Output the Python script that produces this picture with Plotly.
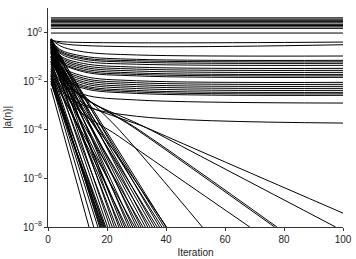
import plotly.graph_objects as go

# ---------------- data (log10 of |a(n)|) ----------------
# flat lines, constant from iteration 1 to 100
flat_log10 = [0.596, 0.542, 0.493, 0.440, 0.390, 0.329, 0.280, 0.226, 0.164, -0.029]

# near-flat lines just below 10^0
nearflat_iters = [1, 5, 100]
nearflat_log10 = [
    [-0.33, -0.39, -0.40],
    [-0.30, -0.47, -0.51],
]

# lines that fall and level off (plateau)
plateau_iters = [1, 4, 12, 30, 100]
plateau_log10 = [
    [-0.25, -0.55, -0.80, -0.93, -0.974],
    [-0.30, -0.70, -0.98, -1.11, -1.151],
    [-0.28, -0.75, -1.05, -1.17, -1.212],
    [-0.35, -0.80, -1.10, -1.23, -1.274],
    [-0.32, -0.85, -1.18, -1.31, -1.356],
    [-0.40, -0.95, -1.28, -1.43, -1.480],
    [-0.45, -1.00, -1.36, -1.51, -1.562],
    [-0.38, -1.05, -1.43, -1.59, -1.644],
    [-0.50, -1.12, -1.50, -1.67, -1.726],
    [-0.55, -1.18, -1.57, -1.73, -1.788],
    [-0.42, -1.20, -1.62, -1.79, -1.850],
    [-0.60, -1.35, -1.80, -1.99, -2.055],
    [-0.48, -1.40, -1.88, -2.07, -2.137],
    [-0.65, -1.48, -1.95, -2.15, -2.219],
    [-0.70, -1.55, -2.03, -2.23, -2.302],
    [-0.58, -1.60, -2.10, -2.31, -2.384],
    [-0.75, -1.68, -2.18, -2.39, -2.466],
    [-0.80, -1.75, -2.24, -2.45, -2.528],
    [-0.85, -1.82, -2.30, -2.51, -2.589],
    [-1.00, -2.00, -2.55, -2.78, -2.906],
    [-1.20, -2.30, -3.00, -3.45, -3.728],
]

# slowly converging lines: start (it. 1), knee, a reading near it. 30, last point
slow_start = [-0.50, -0.40, -0.30, -0.35, -0.60, -0.30, -0.50]
slow_knee_iter = [8, 8, 6, 6, 8, 5, 5]
slow_knee = [-2.55, -2.30, -2.00, -2.05, -2.90, -1.60, -2.00]
slow_mid_iter = [35.5, 35.1, 30.5, 31.1, 24.3, 24.3, 24.3]
slow_mid = [-4.03, -4.03, -4.03, -4.03, -4.30, -4.03, -5.19]
slow_end_iter = [100, 97.5, 76.8, 77.6, 68.4, 52.3, 40.2]
slow_end = [-7.43, -8, -8, -8, -8, -8, -8]

# fast converging lines: start at iteration 1, reach 10^-8 at end iteration
fast_start = [-2.3, -2.0, -1.9, -1.6, -1.8, -1.7, -1.9, -2.0, -1.5, -2.1, -1.75,
              -1.2, -0.8, -1.4, -0.5, -1.0, -0.3, -1.3, -0.6, -0.9, -1.6, -0.4,
              -1.1, -0.7, -1.8, -0.35, -1.0, -0.55, -1.5, -0.8, -0.3, -1.2, -0.65,
              -0.45, -1.0, -0.3, -0.75, -0.5, -0.4]
fast_end_iter = [13.9, 15.5, 16.9, 17.5, 17.8, 18.1, 18.4, 18.7, 19.0, 19.3, 19.6,
                 20.2, 21.0, 21.8, 22.5, 23.2, 24.0, 24.6, 25.3, 26.0, 26.6, 27.3,
                 28.0, 28.7, 29.4, 30.0, 30.8, 31.5, 32.2, 33.0, 33.8, 34.6, 35.4,
                 36.2, 37.0, 37.8, 38.6, 39.4, 40.0]
floor_log10 = -8

x_ticks = [0, 20, 40, 60, 80, 100]
y_tick_log10 = [0, -2, -4, -6, -8]
y_tick_text = ["10<sup>0</sup>", "10<sup>\u22122</sup>", "10<sup>\u22124</sup>",
               "10<sup>\u22126</sup>", "10<sup>\u22128</sup>"]

# ---------------- figure ----------------
fig = go.Figure()


def add(xs, logs, shape="linear"):
    fig.add_trace(go.Scatter(x=xs, y=[10 ** v for v in logs], mode="lines",
                             line=dict(color="black", width=1, shape=shape),
                             showlegend=False, hoverinfo="skip"))


for v in flat_log10:
    add([1, 100], [v, v])
for row in nearflat_log10:
    add(nearflat_iters, row, "spline")
for row in plateau_log10:
    add(plateau_iters, row, "spline")
for s, ki, kv, mi, mv, ei, ev in zip(slow_start, slow_knee_iter, slow_knee,
                                     slow_mid_iter, slow_mid, slow_end_iter, slow_end):
    add([1, ki, mi, ei], [s, kv, mv, ev], "spline")
for s, ei in zip(fast_start, fast_end_iter):
    add([1, ei], [s, floor_log10])

axis_common = dict(showline=True, linecolor="#333", linewidth=1, ticks="outside",
                   ticklen=3, tickcolor="#333", showgrid=False, zeroline=False,
                   automargin=False, tickfont=dict(size=10, color="#222"))

fig.update_layout(
    width=356, height=259,
    margin=dict(l=48, r=13, t=8, b=32),
    paper_bgcolor="white", plot_bgcolor="white",
    font=dict(family="Liberation Sans, Arial, sans-serif", size=10, color="#222"),
    xaxis=dict(range=[0, 100], tickvals=x_ticks,
               title=dict(text="Iteration", font=dict(size=10), standoff=4),
               **axis_common),
    yaxis=dict(type="log", range=[-8, 1], tickvals=[10 ** v for v in y_tick_log10],
               ticktext=y_tick_text,
               title=dict(text="|a(n)|", font=dict(size=10), standoff=9),
               **axis_common),
)

fig.write_html("out.html", config={"displayModeBar": False},
               post_script="document.body.style.margin='0';document.body.style.overflow='hidden';")
